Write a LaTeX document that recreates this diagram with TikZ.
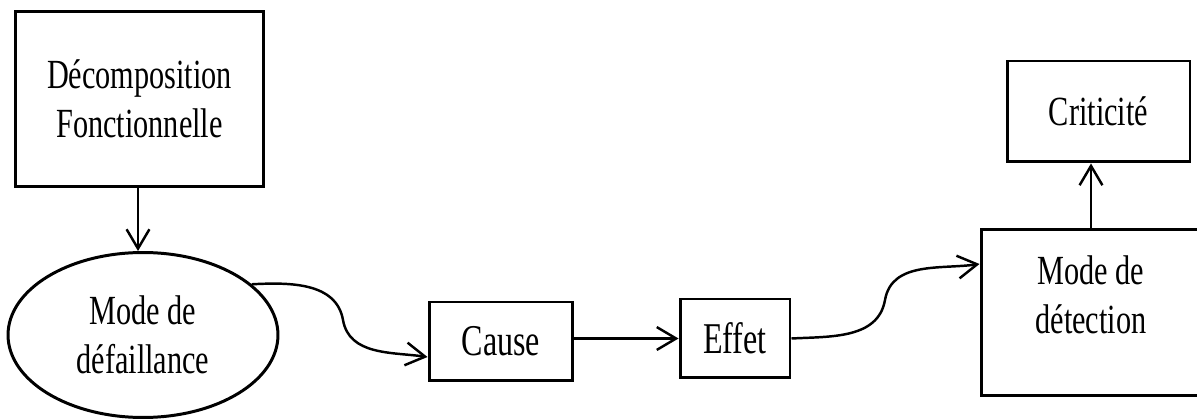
\documentclass[tikz,border=0pt]{standalone}
\usepackage{fontspec}
\setmainfont[FakeStretch=0.73]{Liberation Serif}
\usetikzlibrary{shapes.geometric,arrows.meta}
\begin{document}
\begin{tikzpicture}[x=0.02cm,y=0.02cm,
  box/.style={draw,line width=1.7pt,inner sep=0pt,align=center,
    font=\fontsize{23.6}{28}\selectfont},
  bigbox/.style={box,font=\fontsize{25}{30}\selectfont},
  oval/.style={box,ellipse},
  txt/.style={inner sep=0pt,align=center,font=\fontsize{23.6}{28}\selectfont},
  conn/.style={line width=1.4pt,-{Straight Barb[length=11pt,width=13pt]}}]
\useasboundingbox (0,0) rectangle (1197,419);
\node[box,minimum width=4.98cm,minimum height=3.52cm] (dec) at (139.5,320) {Décomposition\\Fonctionnelle};
\node[oval,minimum width=5.4cm,minimum height=3.3cm] (mode) at (143,84) {Mode de\\défaillance};
\node[bigbox,minimum width=2.88cm,minimum height=1.58cm] (cause) at (501,77.5) {Cause};
\node[bigbox,minimum width=2.2cm,minimum height=1.58cm] (effet) at (735,80.5) {Effet};
\node[box,minimum width=4.4cm,minimum height=3.34cm] (det) at (1091,106.5) {};
\node[txt] (dettxt) at (1091,124) {Mode de\\détection};
\node[box,minimum width=3.66cm,minimum height=2.02cm] (crit) at (1098.5,307.5) {Criticité};
\coordinate (s1) at (343,99);
\coordinate (s2) at (885,119);
\draw[conn] (dec.south -| 138,0) -- (mode.north -| 138,0);
\draw[conn] (mode.25) to[out=3,in=100] (s1) to[out=-80,in=172] ([yshift=-0.31cm]cause.west);
\draw[conn] (cause.east |- effet.west) -- (effet.west);
\draw[conn] (effet.east) to[out=3,in=-100] (s2) to[out=80,in=188] ([yshift=0.97cm]det.west);
\draw[conn] (det.north) -- (det.north |- crit.south);
\end{tikzpicture}
\end{document}
